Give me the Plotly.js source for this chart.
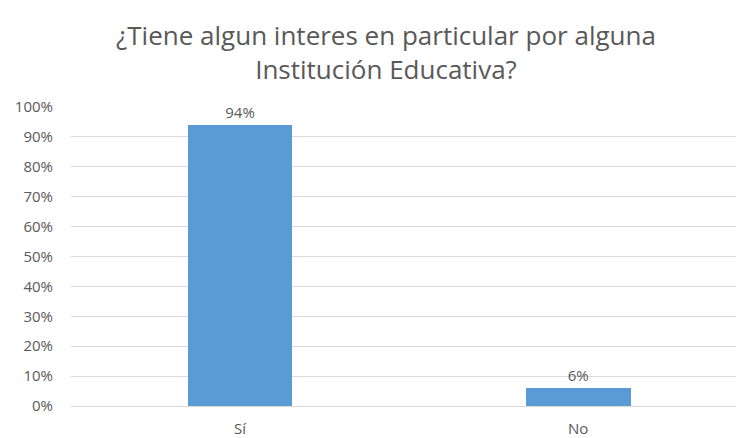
<!DOCTYPE html>
<html>
<head>
<meta charset="utf-8">
<script src="https://cdn.plot.ly/plotly-3.0.1.min.js"></script>
<style>html,body{margin:0;padding:0;background:#fff;}#chart{width:736px;height:438px;}</style>
</head>
<body>
<div id="chart"></div>
<script>
const categories = ['Sí', 'No'];
const values = [0.94, 0.06];
const yTickVals = [0, 0.1, 0.2, 0.3, 0.4, 0.5, 0.6, 0.7, 0.8, 0.9, 1.0];
const titleText = '¿Tiene algun interes en particular por alguna<br>Institución Educativa?';

const font = 'Open Sans, Noto Sans, sans-serif';
const gray = '#595959';

Plotly.newPlot('chart', [{
  type: 'bar',
  x: categories,
  y: values,
  width: 0.31,
  marker: {color: '#5b9bd5'},
  texttemplate: '%{y:.0%}',
  textposition: 'outside',
  cliponaxis: false,
  textfont: {family: font, size: 15, color: gray},
  hoverinfo: 'none'
}], {
  width: 736, height: 438,
  margin: {l: 71, r: 0, t: 107, b: 32, pad: 0},
  paper_bgcolor: '#fff', plot_bgcolor: '#fff',
  title: {
    text: titleText,
    font: {family: font, size: 26, color: gray},
    xref: 'container', x: 386/736, xanchor: 'center',
    yref: 'container', y: 1 - 45/438, yanchor: 'top'
  },
  showlegend: false,
  xaxis: {
    type: 'category',
    range: [-0.5, 1.467],
    showgrid: false, zeroline: false, showline: false,
    ticks: 'outside', ticklen: 9, tickcolor: 'rgba(0,0,0,0)',
    tickfont: {family: font, size: 15, color: gray},
    fixedrange: true
  },
  yaxis: {
    range: [0, 1],
    tickvals: yTickVals,
    tickformat: '.0%',
    showgrid: true, gridcolor: '#d9d9d9', gridwidth: 1,
    zeroline: true, zerolinecolor: '#d9d9d9', zerolinewidth: 1,
    showline: false,
    ticks: 'outside', ticklen: 14, tickcolor: 'rgba(0,0,0,0)',
    tickfont: {family: font, size: 15, color: gray},
    fixedrange: true
  },
  bargap: 0
}, {displayModeBar: false, staticPlot: true});
</script>
</body>
</html>
